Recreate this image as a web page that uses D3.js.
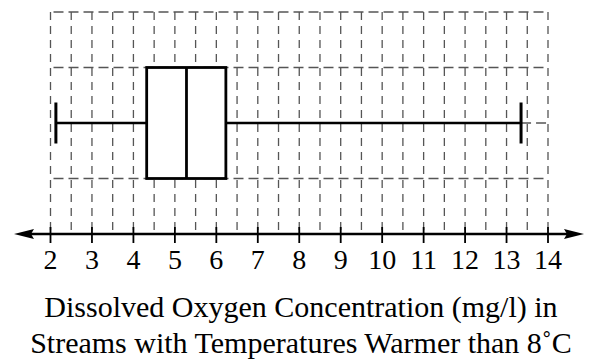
<!DOCTYPE html>
<html><head><meta charset="utf-8">
<script src="https://cdn.jsdelivr.net/npm/d3@7"></script>
</head><body style="margin:0">
<script>
const statNames = ["min","q1","median","q3","max"];
const statValues = [2.13, 4.32, 5.28, 6.23, 13.35];
const tickValues = [2,3,4,5,6,7,8,9,10,11,12,13,14];
const titleLines = ["Dissolved Oxygen Concentration (mg/l) in","Streams with Temperatures Warmer than 8\u02DAC"];

const W=594,H=364;
const svg=d3.select("body").append("svg").attr("width",W).attr("height",H).style("display","block");
const x=d3.scaleLinear().domain([2,14]).range([50.5,548]);
const y=d3.scaleLinear().domain([0,4]).range([234,12]);
const s={}; statNames.forEach((n,i)=>s[n]=statValues[i]);

const grid=svg.append("g").attr("stroke","#555").attr("stroke-width",1.3).attr("fill","none");
const halfTicks=d3.range(2,14.01,0.5);
grid.selectAll("line.v").data(halfTicks).join("line")
  .attr("x1",d=>x(d)).attr("x2",d=>x(d)).attr("y1",y(4)).attr("y2",y(0))
  .attr("stroke-dasharray","8,6");
grid.selectAll("line.h").data([1,3,4]).join("line")
  .attr("x1",x(2)).attr("x2",x(14)).attr("y1",d=>y(d)).attr("y2",d=>y(d))
  .attr("stroke-dasharray","10,5").attr("stroke-dashoffset",-3);
grid.append("line").attr("x1",x(s.max)).attr("x2",x(14)).attr("y1",y(2)).attr("y2",y(2))
  .attr("stroke-dasharray","10,5");

const bp=svg.append("g").attr("stroke","#000").attr("fill","none");
bp.append("line").attr("x1",x(s.min)).attr("x2",x(s.q1)).attr("y1",y(2)).attr("y2",y(2)).attr("stroke-width",2.5);
bp.append("line").attr("x1",x(s.q3)).attr("x2",x(s.max)).attr("y1",y(2)).attr("y2",y(2)).attr("stroke-width",2.5);
[s.min,s.max].forEach(v=>bp.append("line").attr("x1",x(v)).attr("x2",x(v)).attr("y1",y(2)-20.5).attr("y2",y(2)+20.5).attr("stroke-width",3));
bp.append("rect").attr("x",x(s.q1)).attr("y",y(3)).attr("width",x(s.q3)-x(s.q1)).attr("height",y(1)-y(3)).attr("stroke-width",2.8).attr("fill","#fff");
bp.append("line").attr("x1",x(s.median)).attr("x2",x(s.median)).attr("y1",y(3)).attr("y2",y(1)).attr("stroke-width",2.8);

const ay=y(0);
const ax=svg.append("g");
ax.append("line").attr("x1",30).attr("x2",568).attr("y1",ay).attr("y2",ay).attr("stroke","#000").attr("stroke-width",2.5);
ax.append("path").attr("d",`M14,${ay} L34,${ay-5} L31,${ay} L34,${ay+5} Z`).attr("fill","#000");
ax.append("path").attr("d",`M584,${ay} L564,${ay-5} L567,${ay} L564,${ay+5} Z`).attr("fill","#000");

// integer ticks drawn from the scale
svg.selectAll("line.tk").data(tickValues).join("line").attr("class","tk")
  .attr("x1",d=>x(d)).attr("x2",d=>x(d)).attr("y1",ay-7).attr("y2",ay+9)
  .attr("stroke","#000").attr("stroke-width",1.8);
svg.selectAll("text.tl").data(tickValues).join("text").attr("class","tl")
  .attr("x",d=>x(d)).attr("y",ay+35).attr("text-anchor","middle")
  .attr("font-size",28).style("font-family",'"Times New Roman"')
  .text(d=>d3.format("d")(d));

svg.selectAll("text.tt").data(titleLines).join("text").attr("class","tt")
  .attr("x",W/2+4).attr("y",(d,i)=>317+i*36).attr("text-anchor","middle")
  .attr("font-size",30).style("font-family",'"Liberation Serif"')
  .text(d=>d);
</script>
</body></html>
